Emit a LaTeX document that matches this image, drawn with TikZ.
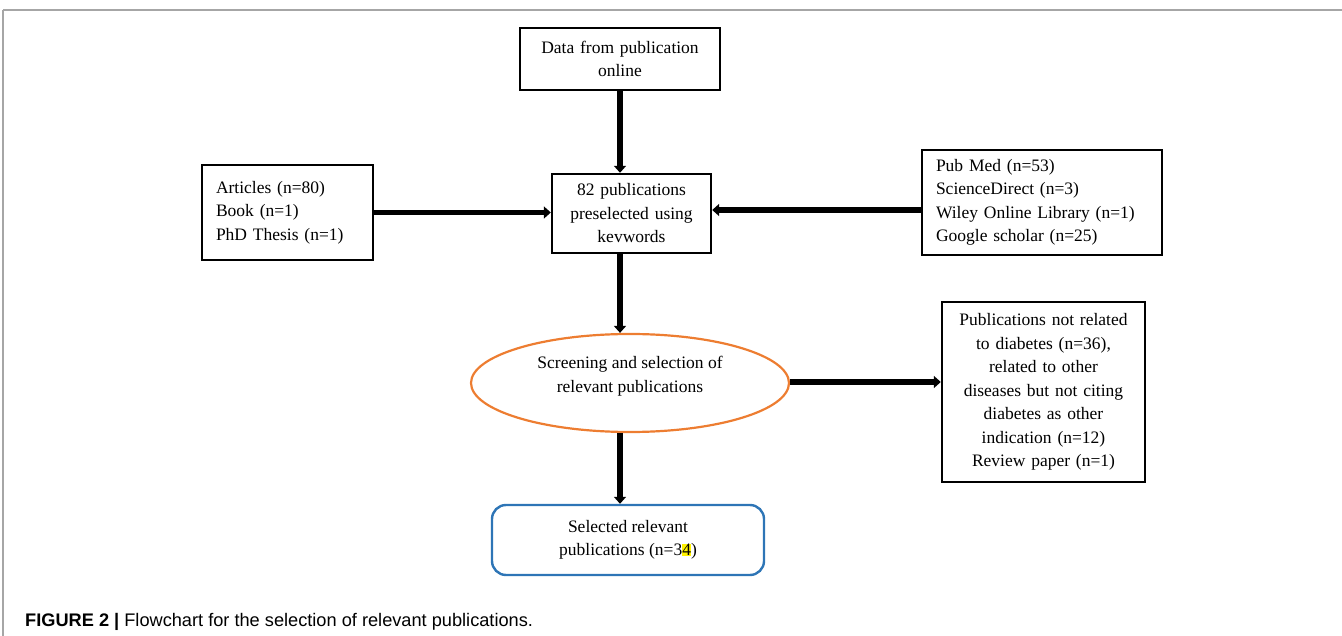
\documentclass[tikz,border=0pt]{standalone}
\usepackage{fontspec}
\setmainfont{Liberation Serif}
\newfontfamily\capfont{Liberation Sans}
\usetikzlibrary{arrows.meta,shapes.geometric}
\definecolor{ellorange}{RGB}{237,125,49}
\definecolor{boxblue}{RGB}{46,117,182}
\begin{document}
\begin{tikzpicture}[x=1pt,y=-1pt,
  every node/.style={font=\fontsize{17.5pt}{23.5pt}\selectfont},
  flowbox/.style={draw=black,line width=2.4pt,inner sep=0pt,align=center},
  leftbox/.style={flowbox,align=left},
  flowarrow/.style={line width=5.5pt,-{Triangle[length=7pt,width=12pt]}},
]
\useasboundingbox (0,0) rectangle (1342,636);
% frame
\draw[gray!70,line width=1.6pt] (3,10) -- (1342,10);
\draw[gray!70,line width=1.2pt] (3,10) -- (3,636);

\node[flowbox,minimum width=200pt,minimum height=62pt,text width=190pt] (data) at (620,59) {Data from publication\\online};
\node[flowbox,minimum width=159pt,minimum height=79pt,text width=150pt] (pre) at (631.5,213.5) {82 publications\\preselected using\\kevwords};
\node[leftbox,minimum width=171pt,minimum height=95pt,text width=143pt] (art) at (287.5,212.5) {Articles (n=80)\\Book (n=1)\\PhD Thesis (n=1)\\[-3pt]};
\node[leftbox,minimum width=240pt,minimum height=105pt,text width=212pt] (db) at (1042,202.5) {Pub Med (n=53)\\ScienceDirect (n=3)\\Wiley Online Library (n=1)\\Google scholar (n=25)\\[-3pt]};
\node[ellipse,draw=ellorange,line width=2.2pt,minimum width=318pt,minimum height=98pt,inner sep=0pt,align=center] (scr) at (630,383) {Screening and selection of\\relevant publications\\[-6pt]};
\node[flowbox,minimum width=203pt,minimum height=180pt,text width=195pt] (excl) at (1043.5,392) {Publications not related\\to diabetes (n=36),\\related to other\\diseases but not citing\\diabetes as other\\indication (n=12)\\Review paper (n=1)};
\node[draw=boxblue,line width=2.4pt,rounded corners=14pt,minimum width=272pt,minimum height=70pt,inner sep=0pt,align=center] (sel) at (628,540) {Selected relevant\\publications (n=3{\setlength{\fboxsep}{0pt}\colorbox{yellow}{4}})};

\coordinate (dbw) at ([yshift=-7.5pt]db.west);
\coordinate (scre) at ([yshift=1pt]scr.east);
\draw[flowarrow] (data.south) -- (data.south |- pre.north);
\draw[flowarrow] (art.east) -- (pre.west |- art.east);
\draw[flowarrow] (dbw) -- (pre.east |- dbw);
\draw[flowarrow] (pre.south -| data.south) -- (scr.north -| data.south);
\draw[flowarrow] (scre) -- (excl.west |- scre);
\draw[flowarrow] (scr.south -| data.south) -- (sel.north -| data.south);

\node[anchor=base west,inner sep=0pt,font=\capfont\fontsize{18.2pt}{22pt}\selectfont] (cap) at (25,626) {\textbf{FIGURE 2} {\bfseries|} Flowchart for the selection of relevant publications.};
\end{tikzpicture}
\end{document}
